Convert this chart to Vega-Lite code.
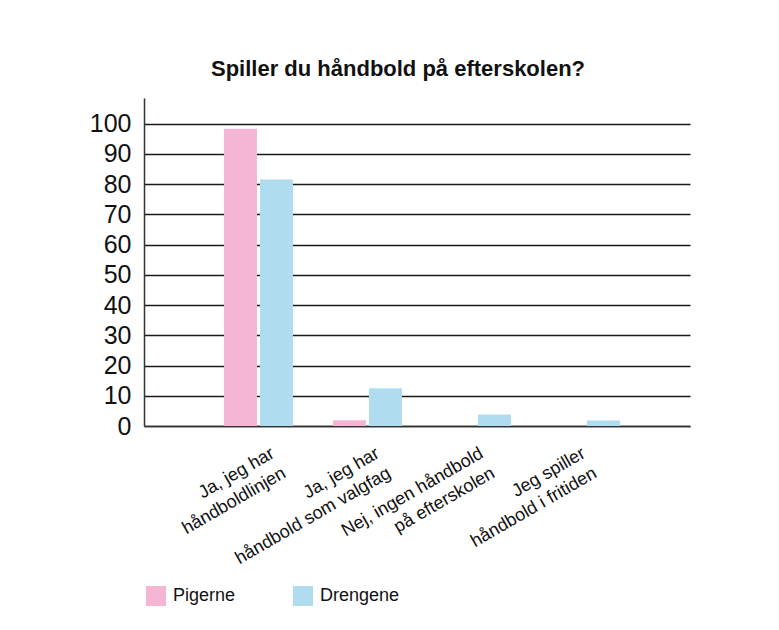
{
  "$schema": "https://vega.github.io/schema/vega-lite/v6.json",
  "width": 546,
  "height": 328,
  "autosize": {"type": "none"},
  "padding": {"left": 144, "top": 98, "right": 89, "bottom": 204},
  "background": "white",
  "title": {
    "text": "Spiller du håndbold på efterskolen?",
    "font": "Liberation Sans Narrow, Liberation Sans, sans-serif",
    "fontSize": 22,
    "fontWeight": "bold",
    "color": "#111111",
    "anchor": "middle",
    "dx": -19,
    "offset": 17
  },
  "data": {
    "values": [
      {"kategori": "Ja, jeg har|håndboldlinjen", "køn": "Pigerne", "procent": 98.3},
      {"kategori": "Ja, jeg har|håndboldlinjen", "køn": "Drengene", "procent": 81.5},
      {"kategori": "Ja, jeg har|håndbold som valgfag", "køn": "Pigerne", "procent": 1.9},
      {"kategori": "Ja, jeg har|håndbold som valgfag", "køn": "Drengene", "procent": 12.5},
      {"kategori": "Nej, ingen håndbold|på efterskolen", "køn": "Pigerne", "procent": 0},
      {"kategori": "Nej, ingen håndbold|på efterskolen", "køn": "Drengene", "procent": 3.8},
      {"kategori": "Jeg spiller|håndbold i fritiden", "køn": "Pigerne", "procent": 0},
      {"kategori": "Jeg spiller|håndbold i fritiden", "køn": "Drengene", "procent": 1.8}
    ]
  },
  "mark": {"type": "bar"},
  "encoding": {
    "x": {
      "field": "kategori",
      "type": "nominal",
      "sort": null,
      "scale": {"paddingInner": 0.367, "paddingOuter": 0.688, "align": 0.533},
      "axis": {
        "title": null,
        "labelExpr": "split(datum.label, '|')",
        "labelAngle": -30,
        "labelAlign": "right",
        "labelBaseline": "top",
        "labelPadding": 18,
        "labelOffset": {
          "condition": [
            {"test": "datum.value === 'Ja, jeg har|håndboldlinjen'", "value": 10},
            {"test": "datum.value === 'Ja, jeg har|håndbold som valgfag'", "value": 6},
            {"test": "datum.value === 'Nej, ingen håndbold|på efterskolen'", "value": 1}
          ],
          "value": -6
        },
        "labelFont": "Liberation Sans Narrow, Liberation Sans, sans-serif",
        "labelFontSize": 18,
        "labelLineHeight": 23,
        "labelColor": "#111111",
        "labelLimit": 300,
        "ticks": false,
        "domainColor": "#333333",
        "domainWidth": 1.5
      }
    },
    "xOffset": {
      "field": "køn",
      "type": "nominal",
      "sort": ["Pigerne", "Drengene"],
      "scale": {"paddingInner": 0.0833, "paddingOuter": 0}
    },
    "y": {
      "field": "procent",
      "type": "quantitative",
      "scale": {"domain": [0, 108.5], "nice": false, "zero": true},
      "axis": {
        "title": null,
        "values": [0, 10, 20, 30, 40, 50, 60, 70, 80, 90, 100],
        "ticks": false,
        "labelPadding": 13,
        "labelFont": "Liberation Sans Narrow, Liberation Sans, sans-serif",
        "labelFontSize": 25,
        "labelColor": "#111111",
        "grid": true,
        "gridColor": "#1a1a1a",
        "gridWidth": 1.4,
        "domainColor": "#333333",
        "domainWidth": 1.5
      }
    },
    "color": {
      "field": "køn",
      "type": "nominal",
      "sort": ["Pigerne", "Drengene"],
      "scale": {"domain": ["Pigerne", "Drengene"], "range": ["#F5B6D6", "#B0DCF0"]},
      "legend": {
        "title": null,
        "orient": "none",
        "legendX": 2,
        "legendY": 488,
        "direction": "horizontal",
        "symbolType": "square",
        "symbolSize": 400,
        "symbolStrokeWidth": 0,
        "symbolOpacity": 1,
        "labelFont": "Liberation Sans Narrow, Liberation Sans, sans-serif",
        "labelFontSize": 18,
        "labelColor": "#111111",
        "labelOffset": 7,
        "columnPadding": 57
      }
    }
  },
  "config": {
    "view": {"stroke": null},
    "axis": {"gridOpacity": 1}
  }
}
